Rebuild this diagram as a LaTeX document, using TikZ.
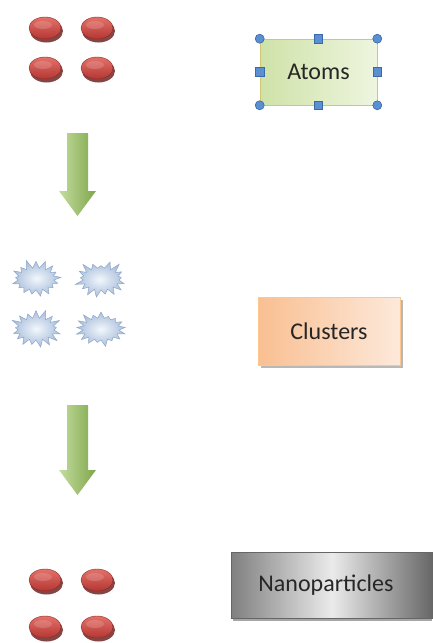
\documentclass[tikz,border=0pt]{standalone}
\usepackage{fontspec}
\setmainfont{Carlito}
\usetikzlibrary{shapes.symbols,shadings}

\definecolor{atomlight}{HTML}{E4726A}
\definecolor{atomdark}{HTML}{B43632}
\definecolor{atomshade}{HTML}{6E2523}
\definecolor{handle}{HTML}{5B8FD2}
\definecolor{handleedge}{HTML}{3869A8}
\definecolor{burstin}{HTML}{F2F7FC}
\definecolor{burstout}{HTML}{A9BEDB}
\definecolor{burstedge}{HTML}{8FA7C9}
\definecolor{arrowlight}{HTML}{C4DD9E}
\definecolor{arrowdark}{HTML}{7FA64C}
\definecolor{atomboxa}{HTML}{CFE2A8}
\definecolor{atomboxb}{HTML}{EEF5DF}
\definecolor{clustera}{HTML}{F9BF92}
\definecolor{clusterb}{HTML}{FDE9DA}

\tikzset{
  label/.style={font=\fontsize{24}{28}\selectfont, text=black!85},
  handlecirc/.style={circle, fill=handle, draw=handleedge, line width=0.6pt, inner sep=0pt, minimum size=9pt},
  handlesq/.style={rectangle, fill=handle, draw=handleedge, line width=0.6pt, inner sep=0pt, minimum size=8.5pt},
  burst/.style={starburst, starburst points=17, starburst point height=9pt,
    minimum width=54pt, minimum height=40pt, inner sep=0pt,
    inner color=burstin, outer color=burstout, draw=burstedge, line width=0.5pt},
  blockarrow/.style={left color=arrowlight, right color=arrowdark, draw=none},
}

% one glossy red atom
\newcommand{\atomat}[2]{%
  \fill[atomshade!85] (#1+1.5,#2+3) ellipse [x radius=16.5, y radius=11.5];
  \shade[top color=atomlight, bottom color=atomdark, draw=atomdark!80!black, line width=0.4pt]
    (#1,#2) ellipse [x radius=16, y radius=11];
  \fill[white, opacity=0.15] (#1-2,#2-3) ellipse [x radius=9, y radius=4];
}

\begin{document}
\begin{tikzpicture}[x=1pt,y=-1pt]
\useasboundingbox (0,0) rectangle (432,643);
\fill[white] (0,0) rectangle (432,643);

% atoms (top)
\atomat{45}{28}\atomat{97}{28}
\atomat{45}{68}\atomat{97}{68}

% Atoms box with selection handles
\node[rectangle, minimum width=117pt, minimum height=66pt, inner sep=0pt,
  left color=atomboxa, right color=atomboxb,
  draw=olive!45!white, line width=0.6pt, label] (atoms) at (318.5,72) {Atoms};
\node[handlecirc] (h1) at (atoms.north west) {};
\node[handlecirc] (h2) at (atoms.north east) {};
\node[handlecirc] (h3) at (atoms.south west) {};
\node[handlecirc] (h4) at (atoms.south east) {};
\node[handlesq] (h5) at (atoms.north) {};
\node[handlesq] (h6) at (atoms.south) {};
\node[handlesq] (h7) at (atoms.west) {};
\node[handlesq] (h8) at (atoms.east) {};

% first downward block arrow
\path[blockarrow] (67,133) -- (88,133) -- (88,191) -- (96,191) -- (77.5,216)
  -- (59,191) -- (67,191) -- cycle;

% clusters
\node[burst, random starburst=11] (c1) at (36,279) {};
\node[burst, random starburst=23] (c2) at (101,279) {};
\node[burst, random starburst=37] (c3) at (36,329) {};
\node[burst, random starburst=41] (c4) at (101,329) {};

% Clusters box with drop shadow
\fill[black!28] (261,300) rectangle (403,368);
\node[rectangle, minimum width=142pt, minimum height=68pt, inner sep=0pt,
  left color=clustera, right color=clusterb,
  draw=orange!45!white, line width=0.6pt, label] (clusters) at (329,331) {Clusters};

% second downward block arrow
\path[blockarrow] (67,405) -- (88,405) -- (88,470) -- (96,470) -- (77.5,495)
  -- (59,470) -- (67,470) -- cycle;

% nanoparticles (bottom)
\atomat{45}{580}\atomat{97}{580}
\atomat{45}{627}\atomat{97}{627}

% Nanoparticles box
\fill[black!35] (233,556) rectangle (432,621);
\node[rectangle, minimum width=202pt, minimum height=66pt, inner sep=0pt,
  left color=black!50, right color=black!60, middle color=black!8,
  draw=black!60, line width=0.6pt] (nano) at (332,585) {};
\node[label, anchor=center] (nanotext) at (326,585) {Nanoparticles};
\end{tikzpicture}
\end{document}
